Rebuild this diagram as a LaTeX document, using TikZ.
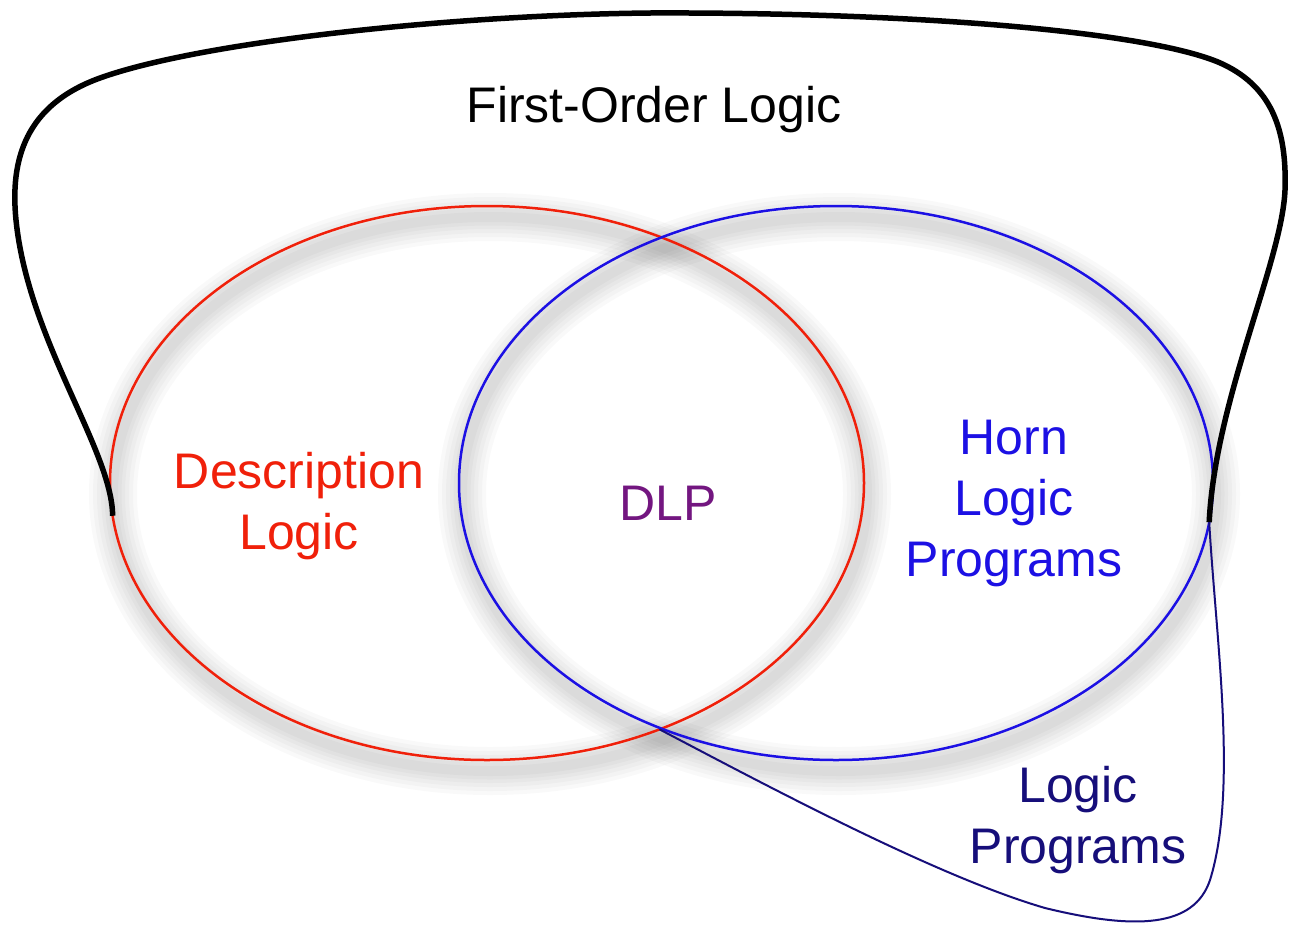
\documentclass[tikz,border=0pt]{standalone}
\usepackage{fontspec}
\setmainfont{Liberation Sans}
\usetikzlibrary{shapes.geometric}

\definecolor{dlred}{RGB}{240,32,10}
\definecolor{hornblue}{RGB}{28,16,228}
\definecolor{dlppurple}{RGB}{115,22,128}
\definecolor{lpnavy}{RGB}{22,14,122}

\tikzset{
  biglabel/.style={font=\fontsize{50}{61}\selectfont, inner sep=0pt, outer sep=0pt, align=center},
  setellipse/.style={draw=#1, line width=2.5pt, ellipse, minimum width=754pt,
                     minimum height=554pt, inner sep=0pt, outer sep=0pt},
  folline/.style={draw=black, line width=5.5pt},
  lpline/.style={draw=lpnavy, line width=2pt},
}

% soft grey shadow under an ellipse outline, centred at #1,#2
\newcommand\ringshadow[2]{%
  \foreach \w in {48,40,32,24,17,10}{%
    \draw[black, opacity=0.022, line width=\w pt]
      (#1,#2) ellipse [x radius=377pt, y radius=277pt];
  }}

\begin{document}
\begin{tikzpicture}[x=1pt,y=-1pt]
\useasboundingbox (0,0) rectangle (1295,924);
\fill[white] (0,0) rectangle (1295,924);

% shadows of the two sets
\ringshadow{490}{494}
\ringshadow{839}{494}

% the two overlapping sets
\node[setellipse=dlred]    (dl)   at (487,483) {};
\node[setellipse=hornblue] (horn) at (836,483) {};

% points where the outer outlines meet the sets
\coordinate (folL) at (dl.185.3);
\coordinate (folR) at (horn.354.5);
\coordinate (xbot) at (dl.305.3);

% first-order logic outline
\draw[folline] (folL)
  .. controls (112,450) and (28,340) .. (16,220)
  .. controls (10,160) and (25,105) .. (100,78)
  .. controls (200,42) and (450,15) .. (650,13)
  .. controls (900,12) and (1140,30) .. (1218,62)
  .. controls (1272,85) and (1287,130) .. (1285,190)
  .. controls (1282,262) and (1215,400) .. (folR);

% logic programs outline
\draw[lpline] (folR)
  .. controls (1216,640) and (1238,790) .. (1210,880)
  .. controls (1194,928) and (1135,930) .. (1045,908)
  .. controls (935,876) and (760,782) .. (xbot);

% labels
\node[biglabel, text=black, anchor=base] (fol) at (654,122) {First-Order Logic};
\node[biglabel, text=dlred] (dltext) at (299,506) {Description\\Logic};
\node[biglabel, text=dlppurple, anchor=base] (dlp) at (668,520) {DLP};
\node[biglabel, text=hornblue] (horntext) at (1014,503) {Horn\\Logic\\Programs};
\node[biglabel, text=lpnavy] (lptext) at (1078,820) {Logic\\Programs};
\end{tikzpicture}
\end{document}
